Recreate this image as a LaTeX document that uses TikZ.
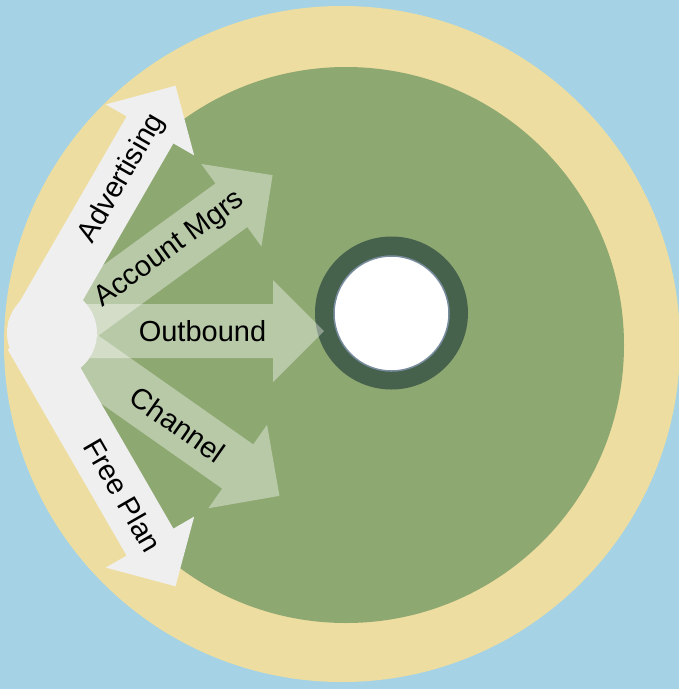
\documentclass[tikz,border=0pt]{standalone}
\usepackage{fontspec}
\setmainfont{Liberation Sans}
\definecolor{bgblue}{RGB}{165,211,229}
\definecolor{sand}{RGB}{238,221,160}
\definecolor{leaf}{RGB}{142,168,114}
\definecolor{ringgreen}{RGB}{70,98,76}
\definecolor{rimblue}{RGB}{120,140,158}
\definecolor{paper}{RGB}{239,239,239}
\newcommand\fatarrow[4]{%
  \begin{scope}[shift={#2}, rotate=#3]
  \fill[#1] (0,-27) -- (#4,-27) -- (#4,-51) -- ({#4+51},0) -- (#4,51) -- (#4,27) -- (0,27) -- cycle;
  \end{scope}}
\newcommand\arrowlabel[5]{%
  \begin{scope}[shift={#1}, rotate=#2]
  \node[lbl, transform shape] (#4) at (#3,0) {#5};
  \end{scope}}
\begin{document}
\begin{tikzpicture}[x=1pt, y=-1pt,
  lbl/.style={inner sep=0pt, font=\fontsize{29}{34}\selectfont, text=black},
  solidarrow/.style={fill=paper},
  glassarrow/.style={fill=white, fill opacity=0.38}]
\useasboundingbox (0,0) rectangle (679,689);
\fill[bgblue] (0,0) rectangle (679,689);
\fill[sand] (342,344) circle[radius=338];
\fill[leaf] (346,345) circle[radius=278];
% hub ring
\fill[ringgreen] (391.5,313) circle[radius=76.5];
\filldraw[fill=white, draw=rimblue, line width=1.5] (391.5,313.5) circle[radius=57.5];
% translucent arrows
\fatarrow{glassarrow}{(52,336)}{36.1}{222}
\fatarrow{glassarrow}{(52,331)}{0}{221}
\fatarrow{glassarrow}{(52,336)}{-35.1}{227}
% solid white arrows and their hub
\fatarrow{solidarrow}{(31,336)}{60}{238}
\fatarrow{solidarrow}{(31,336)}{-60}{238}
\fill[paper] (52,333) circle[radius=45];
% labels
\arrowlabel{(31,336)}{60}{182}{adv}{Advertising}
\arrowlabel{(31,336)}{-60}{184}{free}{Free Plan}
\arrowlabel{(52,336)}{36.1}{146}{acct}{Account Mgrs}
\arrowlabel{(52,331)}{0}{150.5}{outb}{Outbound}
\arrowlabel{(52,336)}{-35.1}{154}{chan}{Channel}
\end{tikzpicture}
\end{document}
